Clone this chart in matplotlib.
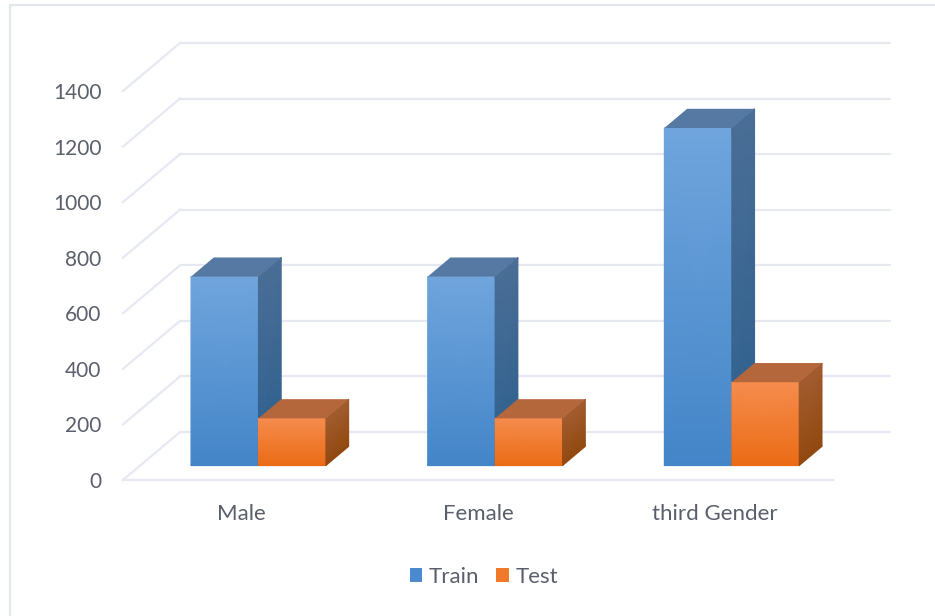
import numpy as np
import matplotlib
matplotlib.use('Agg')
import matplotlib.pyplot as plt
from matplotlib.colors import LinearSegmentedColormap
from matplotlib.patches import Polygon, Patch, Rectangle

categories = ['Male', 'Female', 'third Gender']
train = [680, 680, 1215]
test = [170, 170, 300]
y_ticks = [0, 200, 400, 600, 800, 1000, 1200, 1400]

W, H = 935, 616
GRID = '#e6e9f1'
TEXT = '#5a5f6b'

# shift of the back wall relative to the front plane, in data units
DEPTH_X = 57 / 710 * 3
DEPTH_Y = 48 / 389 * 1400
BAR_W = 0.285
BAR_FRONT = 0.3
BAR_BACK = 0.7

plt.rcParams['font.family'] = ['Lato', 'DejaVu Sans']

fig = plt.figure(figsize=(W / 100, H / 100), dpi=100)
fig.patches.append(Rectangle((10 / W, -0.05), 1.05, 1.05 - 5 / H, transform=fig.transFigure,
                             facecolor='white', edgecolor='#e2e6ef', linewidth=1.5, zorder=-1))
ax = fig.add_axes([123 / W, (H - 480) / H, 710 / W, 389 / H])
ax.patch.set_visible(False)


def proj(x, v, d):
    return x + d * DEPTH_X, v + d * DEPTH_Y


def shaded(corners, bottom, top):
    # corners: bottom left, bottom right, top left, top right
    xs = np.array([[corners[0][0], corners[1][0]], [corners[2][0], corners[3][0]]])
    ys = np.array([[corners[0][1], corners[1][1]], [corners[2][1], corners[3][1]]])
    cmap = LinearSegmentedColormap.from_list('face', [bottom, top])
    ax.pcolormesh(xs, ys, np.array([[0.0, 0.0], [1.0, 1.0]]), shading='gouraud',
                  cmap=cmap, vmin=0, vmax=1, clip_on=False, zorder=3)


def bar3d(x0, value, front, side, roof):
    x1 = x0 + BAR_W
    shaded([proj(x0, 0, BAR_FRONT), proj(x1, 0, BAR_FRONT),
            proj(x0, value, BAR_FRONT), proj(x1, value, BAR_FRONT)], front[0], front[1])
    shaded([proj(x1, 0, BAR_FRONT), proj(x1, 0, BAR_BACK),
            proj(x1, value, BAR_FRONT), proj(x1, value, BAR_BACK)], side[0], side[1])
    ax.add_patch(Polygon([proj(x0, value, BAR_FRONT), proj(x1, value, BAR_FRONT),
                          proj(x1, value, BAR_BACK), proj(x0, value, BAR_BACK)],
                         closed=True, facecolor=roof, edgecolor='none', clip_on=False, zorder=3))


# back wall and side wall lines
for t in y_ticks:
    xb, yb = proj(0, t, 1)
    xe, ye = proj(3, t, 1)
    ax.plot([0, xb], [t, yb], color=GRID, lw=1.6, clip_on=False, zorder=1)
    ax.plot([xb, xe], [yb, ye], color=GRID, lw=1.6, clip_on=False, zorder=1)
ax.plot([0, 3], [0, 0], color=GRID, lw=1.6, clip_on=False, zorder=1)

for i in range(len(categories)):
    c = i + 0.5
    bar3d(c - BAR_W, train[i], ('#4385c8', '#70a5dd'), ('#2d5f8e', '#4a6e96'), '#5579a3')
    bar3d(c, test[i], ('#ea6b14', '#f58c4e'), ('#91490f', '#a25c30'), '#b5673c')

ax.set_xlim(0, 3)
ax.set_ylim(0, 1400)
ax.set_xticks([i + 0.5 for i in range(len(categories))], categories)
ax.set_yticks(y_ticks)
ax.tick_params(axis='y', length=0, pad=15.5, labelsize=15, labelcolor=TEXT)
ax.tick_params(axis='x', length=0, pad=17.5, labelsize=16, labelcolor=TEXT)
for s in ax.spines.values():
    s.set_visible(False)

handles = [Patch(facecolor='#4a8bcf', label='Train'), Patch(facecolor='#f07a2a', label='Test')]
fig.legend(handles=handles, loc='center', bbox_to_anchor=(484 / W, (H - 577) / H), ncol=2,
           frameon=False, fontsize=16, labelcolor=TEXT, handlelength=0.55, handleheight=0.55,
           handletextpad=0.3, columnspacing=0.77)

fig.savefig('out.png', dpi=100)
